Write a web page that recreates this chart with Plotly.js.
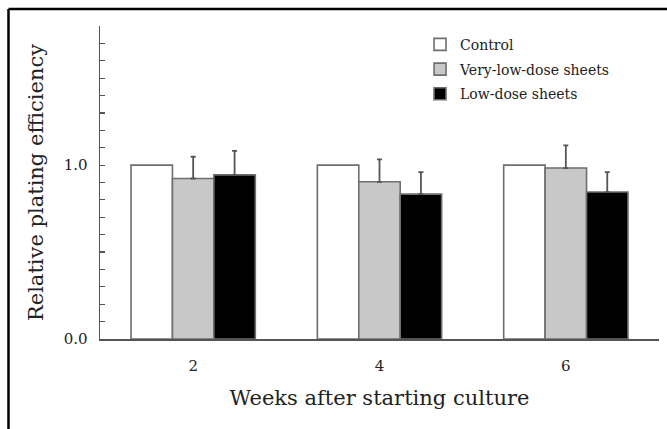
<!DOCTYPE html>
<html>
<head>
<meta charset="utf-8">
<script src="https://cdn.plot.ly/plotly-3.0.1.min.js"></script>
<style>
  html, body { margin: 0; padding: 0; background: #fff; }
  #chart { width: 667px; height: 429px; }
</style>
</head>
<body>
<div id="chart"></div>
<script>
// ---- data ----
const weeks = ['2', '4', '6'];
const seriesNames = ['Control', 'Very-low-dose sheets', 'Low-dose sheets'];
const controlValues = [1.0, 1.0, 1.0];
const veryLowValues = [0.923, 0.904, 0.983];
const veryLowErrors = [0.125, 0.129, 0.130];
const lowDoseValues = [0.944, 0.833, 0.845];
const lowDoseErrors = [0.138, 0.127, 0.115];
const yTickValues = [0, 0.1, 0.2, 0.3, 0.4, 0.5, 0.6, 0.7, 0.8, 0.9, 1.0, 1.1, 1.2, 1.3, 1.4, 1.5, 1.6, 1.7, 1.8];
const yTickLabels = ['0.0', '', '', '', '', '', '', '', '', '', '1.0', '', '', '', '', '', '', '', ''];
const xTitle = 'Weeks after starting culture';
const yTitle = 'Relative plating efficiency';

const FONT = 'DejaVu Serif';
const TEXT = '#222';
const OUTLINE = '#6e6e6e';

const errStyle = { color: '#555', thickness: 1.8, width: 2.5 };

const traces = [
  {
    type: 'bar', name: seriesNames[0], x: weeks, y: controlValues, legendgroup: 'a',
    marker: { color: '#ffffff', line: { color: OUTLINE, width: 1.6 } }
  },
  {
    type: 'bar', name: seriesNames[1], x: weeks, y: veryLowValues, legendgroup: 'b',
    marker: { color: '#c8c8c8', line: { color: OUTLINE, width: 1.6 } },
    error_y: Object.assign({ type: 'data', symmetric: false, array: veryLowErrors }, errStyle)
  },
  {
    type: 'bar', name: seriesNames[2], x: weeks, y: lowDoseValues, legendgroup: 'c',
    marker: { color: '#000000', line: { color: OUTLINE, width: 1.6 } },
    error_y: Object.assign({ type: 'data', symmetric: false, array: lowDoseErrors }, errStyle)
  }
];

const layout = {
  width: 667, height: 429,
  margin: { l: 100, r: 8, t: 26, b: 90, pad: 0 },
  paper_bgcolor: '#ffffff', plot_bgcolor: '#ffffff',
  font: { family: FONT, color: TEXT, size: 15 },
  barmode: 'group', bargap: 0.333, bargroupgap: 0,
  showlegend: true,
  legend: {
    x: 0.5725, xanchor: 'left', y: 0.991, yanchor: 'top',
    bgcolor: 'rgba(0,0,0,0)', font: { family: FONT, size: 14, color: TEXT },
    tracegroupgap: 3.5, traceorder: 'grouped'
  },
  xaxis: {
    type: 'category', range: [-0.5, 2.5], fixedrange: true,
    showline: true, linecolor: '#555', linewidth: 1.5,
    ticks: '', showgrid: false, zeroline: false,
    ticklabelstandoff: 12,
    tickfont: { family: FONT, size: 15, color: TEXT },
    title: { text: xTitle, font: { family: FONT, size: 21, color: TEXT }, standoff: 17 }
  },
  yaxis: {
    range: [0, 1.8], fixedrange: true,
    showline: true, linecolor: '#555', linewidth: 1.5,
    ticks: 'inside', ticklen: 5, tickwidth: 1.2, tickcolor: '#555',
    tickmode: 'array', tickvals: yTickValues, ticktext: yTickLabels,
    ticklabelstandoff: 8,
    showgrid: false, zeroline: false,
    tickfont: { family: FONT, size: 15, color: TEXT },
    title: { text: yTitle, font: { family: FONT, size: 21, color: TEXT }, standoff: 14 }
  },
  shapes: [
    { type: 'line', xref: 'paper', yref: 'paper', x0: -0.1637, x1: -0.1637, y0: -0.35, y1: 1.0543,
      line: { color: '#000', width: 2.5 } },
    { type: 'line', xref: 'paper', yref: 'paper', x0: -0.1637, x1: 1.05, y0: 1.0543, y1: 1.0543,
      line: { color: '#000', width: 2.5 } }
  ]
};

Plotly.newPlot('chart', traces, layout, { displayModeBar: false, staticPlot: true });
</script>
</body>
</html>
